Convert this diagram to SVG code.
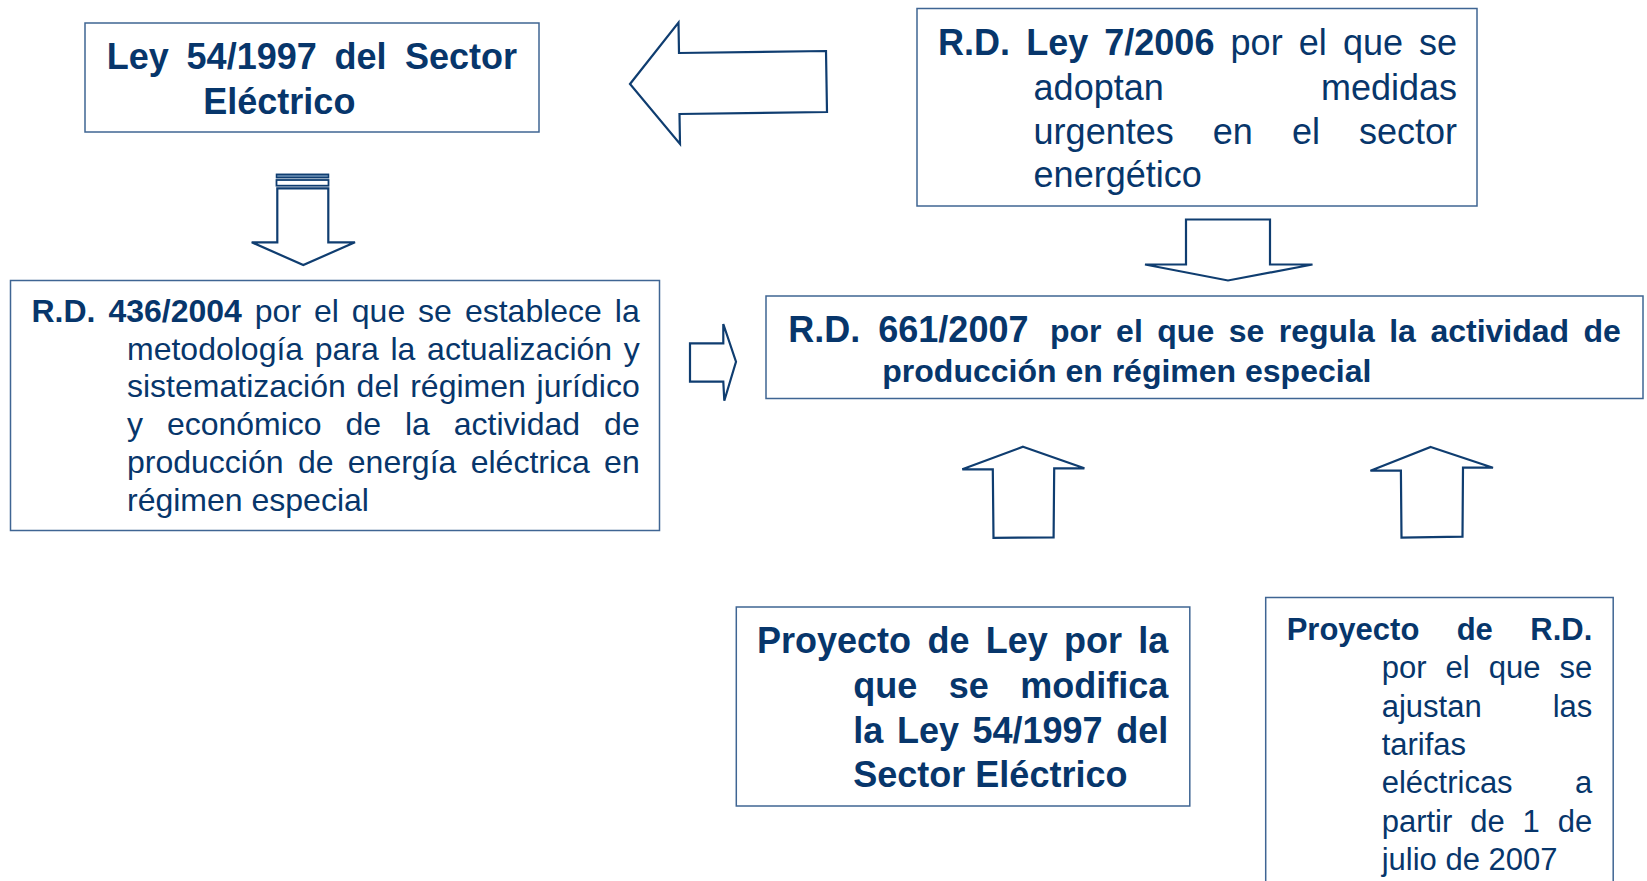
<svg xmlns="http://www.w3.org/2000/svg" width="1647" height="881" viewBox="0 0 1647 881">
<style>
.box{fill:#ffffff;stroke:#3f6593;stroke-width:1.5}
.arr{fill:#ffffff;stroke:#0f3d70;stroke-width:2.2;stroke-linejoin:miter}
.t{font-family:"Liberation Sans",Arial,sans-serif;fill:#07366b}
.b{font-weight:bold}
.s36{font-size:36px}
.s32{font-size:32px}
.s31{font-size:31px}
</style>
<rect width="1647" height="881" fill="#ffffff"/>
<g id="connectors">
<polygon class="arr" points="630,84 678.5,22.5 679,53 826,51 827,112 679.5,114 680,144"/>
<g id="arrow-down-1">
<rect x="276.5" y="174.3" width="52" height="3.4" fill="#5a7fa8" stroke="#0f3d70" stroke-width="1.5"/>
<rect x="276.5" y="180" width="52" height="5.7" fill="#ffffff" stroke="#0f3d70" stroke-width="1.8"/>
<polygon class="arr" points="277.3,188.3 328.3,188.3 328.3,242.3 355,242.3 303.3,265 251.7,242.3 277.3,242.3"/>
</g>
<polygon class="arr" points="1186,219.5 1270,219.5 1270,264.5 1312.5,264.5 1228,280.5 1145,264.5 1186,264.5"/>
<polygon class="arr" points="690,343.3 723.3,343.3 723.3,324 736,361.7 724.3,400.7 723.3,381.7 690,381.7"/>
<polygon class="arr" points="1023,446.7 1084.4,468.3 1054.2,468.3 1053.6,537.3 993.5,537.8 992.8,469.3 962.3,469.3"/>
<polygon class="arr" points="1430.7,447 1493,467.7 1463,467.7 1462.5,536.7 1401.5,537.7 1400.9,470.5 1370.4,470.7"/>
</g>
<g id="node-ley-54-1997">
<rect class="box" x="85" y="23" width="454" height="109"/>
<text class="t b s36" y="69"><tspan x="106.7">Ley</tspan><tspan x="186.6">54/1997</tspan><tspan x="334.6">del</tspan></text>
<text class="t b s36" x="517" y="69" text-anchor="end">Sector</text>
<text class="t b s36" x="203.3" y="114">Eléctrico</text>
</g>
<g id="node-rd-ley-7-2006">
<rect class="box" x="917" y="8.5" width="560" height="197.5"/>
<text class="t s36" y="54.5"><tspan class="b" x="938">R.D.</tspan><tspan class="b" x="1026.2">Ley</tspan><tspan class="b" x="1104.3">7/2006</tspan><tspan x="1230.6">por</tspan><tspan x="1298.7">el</tspan><tspan x="1342.9">que</tspan></text>
<text class="t s36" x="1457" y="54.5" text-anchor="end">se</text>
<text class="t s36" x="1033.6" y="99.5">adoptan</text>
<text class="t s36" x="1457" y="99.5" text-anchor="end">medidas</text>
<text class="t s36" y="144"><tspan x="1033.6">urgentes</tspan><tspan x="1212.8">en</tspan><tspan x="1291.9">el</tspan></text>
<text class="t s36" x="1457" y="144" text-anchor="end">sector</text>
<text class="t s36" x="1033.6" y="187">energético</text>
</g>
<g id="node-rd-436-2004">
<rect class="box" x="10.5" y="280.5" width="649" height="250"/>
<text class="t s32" y="322"><tspan class="b" x="31.5">R.D.</tspan><tspan class="b" x="108.4">436/2004</tspan><tspan x="254.8">por</tspan><tspan x="313.9">el</tspan><tspan x="351.8">que</tspan><tspan x="418.1">se</tspan><tspan x="464.9">establece</tspan></text>
<text class="t s32" x="639.7" y="322" text-anchor="end">la</text>
<text class="t s32" y="359.7"><tspan x="127">metodología</tspan><tspan x="314.8">para</tspan><tspan x="390.5">la</tspan><tspan x="427.1">actualización</tspan></text>
<text class="t s32" x="639.7" y="359.7" text-anchor="end">y</text>
<text class="t s32" y="397.4"><tspan x="127">sistematización</tspan><tspan x="356.6">del</tspan><tspan x="410.2">régimen</tspan></text>
<text class="t s32" x="639.7" y="397.4" text-anchor="end">jurídico</text>
<text class="t s32" y="435.1"><tspan x="127">y</tspan><tspan x="166.9">económico</tspan><tspan x="345.5">de</tspan><tspan x="405">la</tspan><tspan x="453.8">actividad</tspan></text>
<text class="t s32" x="639.7" y="435.1" text-anchor="end">de</text>
<text class="t s32" y="472.8"><tspan x="127">producción</tspan><tspan x="297.9">de</tspan><tspan x="347.8">energía</tspan><tspan x="470.7">eléctrica</tspan></text>
<text class="t s32" x="639.7" y="472.8" text-anchor="end">en</text>
<text class="t s32" x="127" y="510.5">régimen especial</text>
</g>
<g id="node-rd-661-2007">
<rect class="box" x="766" y="296" width="877" height="102.5"/>
<text class="t b" y="341.7"><tspan class="s36" x="788.3">R.D.</tspan><tspan class="s36" x="878.3">661/2007</tspan><tspan class="s32" x="1050">por</tspan><tspan class="s32" x="1116.1">el</tspan><tspan class="s32" x="1157.3">que</tspan><tspan class="s32" x="1228.7">se</tspan><tspan class="s32" x="1278.7">regula</tspan><tspan class="s32" x="1389.2">la</tspan><tspan class="s32" x="1430.4">actividad</tspan></text>
<text class="t b s32" x="1620.8" y="341.7" text-anchor="end">de</text>
<text class="t b s32" x="882.3" y="381.5">producción en régimen especial</text>
</g>
<g id="node-proyecto-ley">
<rect class="box" x="736.3" y="607" width="453.5" height="199"/>
<text class="t b s36" y="653.3"><tspan x="757">Proyecto</tspan><tspan x="927.5">de</tspan><tspan x="985.8">Ley</tspan><tspan x="1064">por</tspan></text>
<text class="t b s36" x="1168.3" y="653.3" text-anchor="end">la</text>
<text class="t b s36" y="698.3"><tspan x="853.3">que</tspan><tspan x="948.8">se</tspan></text>
<text class="t b s36" x="1168.3" y="698.3" text-anchor="end">modifica</text>
<text class="t b s36" y="742.7"><tspan x="853.3">la</tspan><tspan x="896.9">Ley</tspan><tspan x="972.5">54/1997</tspan></text>
<text class="t b s36" x="1168.3" y="742.7" text-anchor="end">del</text>
<text class="t b s36" x="853.3" y="786.7">Sector Eléctrico</text>
</g>
<g id="node-proyecto-rd">
<rect class="box" x="1265.7" y="597.5" width="347.5" height="300"/>
<text class="t b s31" y="640"><tspan x="1286.7">Proyecto</tspan><tspan x="1456.7">de</tspan></text>
<text class="t b s31" x="1592.3" y="640" text-anchor="end">R.D.</text>
<text class="t s31" y="678.3"><tspan x="1381.7">por</tspan><tspan x="1445.6">el</tspan><tspan x="1488.8">que</tspan></text>
<text class="t s31" x="1592.3" y="678.3" text-anchor="end">se</text>
<text class="t s31" x="1381.7" y="716.6">ajustan</text>
<text class="t s31" x="1592.3" y="716.6" text-anchor="end">las</text>
<text class="t s31" x="1381.7" y="754.9">tarifas</text>
<text class="t s31" x="1381.7" y="793.2">eléctricas</text>
<text class="t s31" x="1592.3" y="793.2" text-anchor="end">a</text>
<text class="t s31" y="831.5"><tspan x="1381.7">partir</tspan><tspan x="1470.2">de</tspan><tspan x="1522.6">1</tspan></text>
<text class="t s31" x="1592.3" y="831.5" text-anchor="end">de</text>
<text class="t s31" x="1381.7" y="869.8">julio de 2007</text>
</g>
</svg>
